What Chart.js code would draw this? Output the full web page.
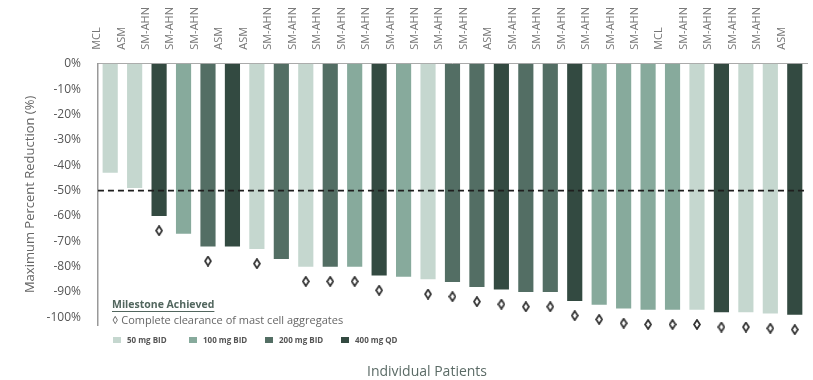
<!DOCTYPE html>
<html>
<head>
<meta charset="utf-8">
<script src="https://cdn.jsdelivr.net/npm/chart.js@4"></script>
<style>
  body { margin: 0; background: #fff; }
  #wrap { width: 813px; height: 380px; position: relative; }
</style>
</head>
<body>
<div id="wrap"><canvas id="chart"></canvas></div>
<script>
// patient diagnosis shown above each bar
const patients = ["MCL", "ASM", "SM-AHN", "SM-AHN", "SM-AHN", "ASM", "ASM", "SM-AHN", "SM-AHN", "SM-AHN",
  "SM-AHN", "SM-AHN", "SM-AHN", "SM-AHN", "SM-AHN", "SM-AHN", "ASM", "SM-AHN", "SM-AHN", "SM-AHN",
  "SM-AHN", "SM-AHN", "SM-AHN", "MCL", "SM-AHN", "SM-AHN", "SM-AHN", "SM-AHN", "ASM"];

// maximum percent reduction per patient
const reduction = [-43, -49, -60, -67, -72, -72, -73, -77, -80, -80,
  -80, -83.5, -84, -85, -86, -88, -89, -90, -90, -93.5,
  -95, -96.5, -97, -97, -97, -98, -98, -98.5, -99];

// dose group per patient (index into doseLabels)
const dose = [0, 0, 3, 1, 2, 3, 0, 2, 0, 2,
  1, 3, 1, 0, 2, 2, 3, 2, 2, 3,
  1, 1, 1, 1, 0, 3, 0, 0, 3];

// complete clearance of mast cell aggregates
const milestone = [0, 0, 1, 0, 1, 0, 1, 0, 1, 1,
  1, 1, 0, 1, 1, 1, 1, 1, 1, 1,
  1, 1, 1, 1, 1, 1, 1, 1, 1];

const doseLabels = ["50 mg BID", "100 mg BID", "200 mg BID", "400 mg QD"];
const doseColors = ["#c5d7cf", "#87aa9c", "#536e64", "#334a41"];
const yTicks = [0, -10, -20, -30, -40, -50, -60, -70, -80, -90, -100];
const threshold = -50;
const markerGap = 5.8; // diamond sits a bit below the bar end

// diamond marker
const diamond = document.createElement("canvas");
diamond.width = 8; diamond.height = 11;
(function () {
  const c = diamond.getContext("2d");
  c.beginPath();
  c.moveTo(4, 1); c.lineTo(7, 5.5); c.lineTo(4, 10); c.lineTo(1, 5.5); c.closePath();
  c.fillStyle = "#fff"; c.fill();
  c.lineWidth = 1.8; c.strokeStyle = "#333"; c.stroke();
})();

const markers = reduction.map((v, i) => milestone[i] ? v - markerGap : null);

// dashed -50% line
const thresholdLine = {
  id: "thresholdLine",
  afterDatasetsDraw(chart) {
    const { ctx, chartArea } = chart;
    const y = chart.scales.y.getPixelForValue(threshold);
    ctx.save();
    ctx.setLineDash([6, 4]);
    ctx.lineWidth = 1.6;
    ctx.strokeStyle = "#1e1e1e";
    ctx.beginPath();
    ctx.moveTo(chartArea.left, y);
    ctx.lineTo(chartArea.right, y);
    ctx.stroke();
    ctx.restore();
  }
};

// notes, dose legend and bottom title
const notes = {
  id: "notes",
  afterDraw(chart) {
    const ctx = chart.ctx;
    ctx.save();
    ctx.textBaseline = "middle";
    ctx.textAlign = "left";

    ctx.font = "bold 10.5px 'Open Sans'";
    ctx.fillStyle = "#52665e";
    ctx.fillText("Milestone Achieved", 112, 305);
    const w = ctx.measureText("Milestone Achieved").width;
    ctx.fillRect(112, 311, w, 1);

    ctx.font = "11px 'Open Sans'";
    ctx.fillStyle = "#666";
    ctx.fillText("\u25CA Complete clearance of mast cell aggregates", 112, 321);

    ctx.font = "bold 8px 'Open Sans'";
    doseLabels.forEach((lab, i) => {
      const x = 113 + i * 76;
      ctx.fillStyle = doseColors[i];
      ctx.fillRect(x, 337, 8, 6);
      ctx.fillStyle = "#555";
      ctx.fillText(lab, x + 14, 340.5);
    });

    ctx.textAlign = "center";
    ctx.font = "14px 'Open Sans'";
    ctx.fillStyle = "#5b6b66";
    ctx.fillText("Individual Patients", 427, 372);
    ctx.restore();
  }
};

new Chart(document.getElementById("chart"), {
  type: "bar",
  data: {
    labels: patients,
    datasets: [
      {
        type: "line",
        label: "Milestone",
        data: markers,
        showLine: false,
        clip: false,
        pointStyle: diamond,
        pointRadius: 5,
        pointHoverRadius: 5
      },
      {
        label: "Reduction",
        data: reduction,
        backgroundColor: dose.map(d => doseColors[d]),
        barPercentage: 0.62,
        categoryPercentage: 1
      }
    ]
  },
  options: {
    responsive: true,
    maintainAspectRatio: false,
    animation: false,
    layout: { padding: { left: 22, right: 1, top: 1, bottom: 55 } },
    plugins: {
      legend: { display: false },
      tooltip: { enabled: false }
    },
    scales: {
      x: {
        position: "top",
        grid: { display: false },
        border: { color: "#aaa", width: 1 },
        ticks: {
          minRotation: 90,
          maxRotation: 90,
          padding: 6,
          color: "#777",
          font: { family: "'Open Sans'", size: 11 }
        }
      },
      y: {
        min: -103,
        max: 0,
        grid: { display: false },
        border: { color: "#999", width: 1.5 },
        afterBuildTicks(scale) {
          scale.ticks = yTicks.map(v => ({ value: v }));
        },
        ticks: {
          padding: 9,
          color: "#555",
          font: { family: "'Open Sans'", size: 12 },
          callback: v => v + "%"
        },
        title: {
          display: true,
          text: "Maximum Percent Reduction (%)",
          color: "#666",
          font: { family: "'Open Sans'", size: 13 },
          padding: { top: 0, bottom: 0 }
        }
      }
    }
  },
  plugins: [thresholdLine, notes]
});
</script>
</body>
</html>
